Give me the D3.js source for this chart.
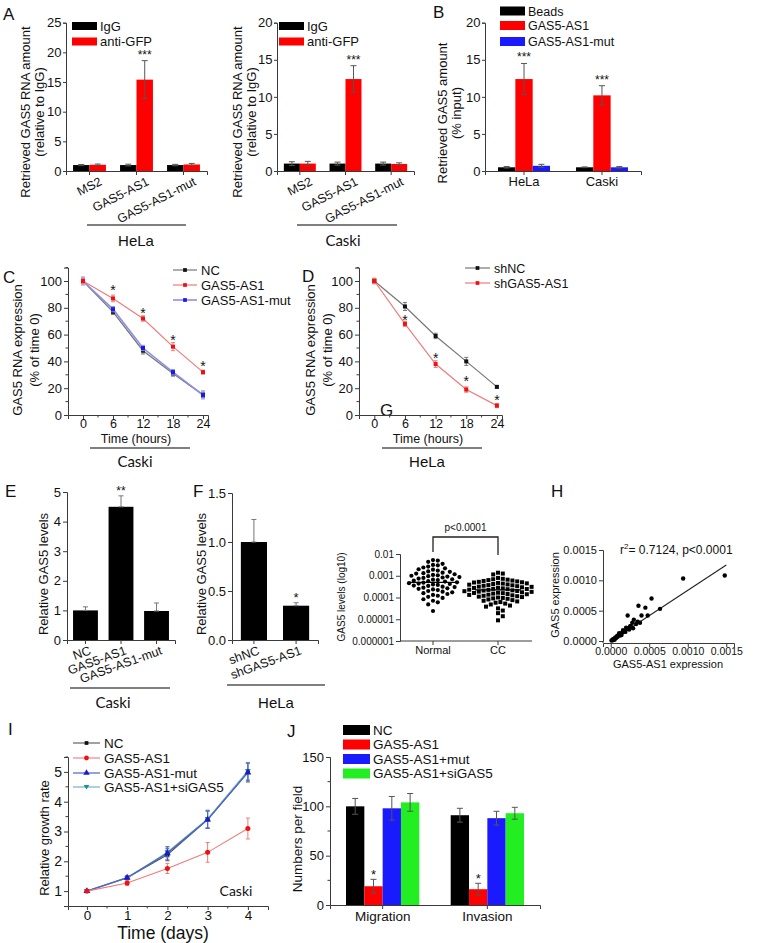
<!DOCTYPE html>
<html><head><meta charset="utf-8">
<script src="https://cdn.jsdelivr.net/npm/d3@7"></script>
<style>body{margin:0;background:#fff}svg{display:block}</style>
</head><body><svg id="fig" width="766" height="943"></svg>
<script>
// ---------------- DATA ----------------
// Panel A
const aCategories = ["MS2", "GAS5-AS1", "GAS5-AS1-mut"];
const aSeries = ["IgG", "anti-GFP"];
const aHelaValues = [[1.0, 1.05], [1.0, 15.4], [1.0, 1.1]];
const aHelaErrors = [[0.1, 0.12], [0.15, 3.2], [0.12, 0.18]];
const aCaskiValues = [[1.0, 1.0], [1.0, 12.4], [1.0, 0.95]];
const aCaskiErrors = [[0.25, 0.3], [0.2, 1.8], [0.2, 0.15]];
const aHelaTicks = [0, 5, 10, 15, 20, 25];
const aCaskiTicks = [0, 5, 10, 15, 20];
// Panel B
const bCells = ["HeLa", "Caski"];
const bSeries = ["Beads", "GAS5-AS1", "GAS5-AS1-mut"];
const bValues = [[0.5, 12.4, 0.7], [0.5, 10.2, 0.5]];
const bErrors = [[0.1, 2.1, 0.2], [0.05, 1.3, 0.1]];
const bTicks = [0, 5, 10, 15, 20];
// Panel C
const cTimes = [0, 6, 12, 18, 24];
const cNC = [100, 77, 48, 31, 15];
const cAS1 = [100, 87, 72, 51, 32];
const cMut = [100, 79, 50, 32, 15];
const cNCErr = [2, 2, 2.5, 2, 2];
const cAS1Err = [2, 2.5, 2, 3, 1.5];
const cMutErr = [3, 2, 2, 2, 3];
const cStarLevels = [95.5, 78.4, 58.2, 38.8];
// Panel D
const dShNC = [100, 81, 59, 40, 21];
const dShAS1 = [100, 68, 38, 19, 7];
const dShNCErr = [2, 3, 2, 3, 1];
const dShAS1Err = [2, 2, 2.5, 2, 1.5];
const dStarLevels = [73, 44.8, 27.6, 13.4];
const timeTicks = [0, 6, 12, 18, 24];
const pctTicks = [0, 20, 40, 60, 80, 100];
// Panel E
const eCategories = ["NC", "GAS5-AS1", "GAS5-AS1-mut"];
const eValues = [1.0, 4.5, 0.98];
const eErrors = [0.12, 0.37, 0.27];
const eTicks = [0, 1, 2, 3, 4, 5];
// Panel F
const fCategories = ["shNC", "shGAS5-AS1"];
const fValues = [1.0, 0.35];
const fErrors = [0.23, 0.03];
const fTicks = [0, 0.5, 1.0, 1.5];
// Panel G (log10 of GAS5 level per sample)
const gGroups = ["Normal", "CC"];
const gNormalLog = [-2.28, -2.3, -2.36, -2.45, -2.5, -2.52, -2.58, -2.62, -2.66, -2.7, -2.72, -2.76, -2.8, -2.82, -2.86, -2.88,
  -2.9, -2.93, -2.96, -2.98, -3.0, -3.02, -3.04, -3.06, -3.08, -3.1, -3.13, -3.16, -3.18, -3.2, -3.22, -3.25, -3.27, -3.3,
  -3.32, -3.34, -3.36, -3.38, -3.4, -3.42, -3.45, -3.47, -3.5, -3.52, -3.55, -3.58, -3.6, -3.63, -3.66, -3.7, -3.73, -3.76,
  -3.8, -3.84, -3.88, -3.92, -3.97, -4.02, -4.08, -4.15, -4.22, -4.32, -4.62];
const gCCLog = [-2.86, -2.9, -2.94, -3.1, -3.14, -3.16, -3.18, -3.2, -3.22, -3.24, -3.26, -3.28, -3.3, -3.31, -3.33, -3.35,
  -3.36, -3.38, -3.4, -3.41, -3.43, -3.44, -3.46, -3.48, -3.5, -3.51, -3.53, -3.55, -3.56, -3.58, -3.6, -3.61, -3.62, -3.64,
  -3.65, -3.67, -3.68, -3.7, -3.71, -3.73, -3.74, -3.76, -3.78, -3.79, -3.8, -3.82, -3.84, -3.85, -3.87, -3.88, -3.9, -3.92,
  -3.94, -3.96, -3.98, -4.0, -4.02, -4.04, -4.06, -4.09, -4.12, -4.15, -4.18, -4.21, -4.24, -4.28, -4.32, -4.37, -4.42,
  -4.5, -4.6, -4.72, -4.86, -5.05];
const gMedianLog = [-3.3, -3.65];
const gTicks = [0.000001, 0.00001, 0.0001, 0.001, 0.01];
const gTickLabels = ["0.000001", "0.00001", "0.0001", "0.001", "0.01"];
// Panel H
const hX = [0.00148, 0.00094, 0.00053, 0.00064, 0.00036, 0.00045, 0.00040, 0.00048, 0.00022, 0.00030, 0.00028, 0.00033,
  0.00025, 0.00020, 0.00018, 0.00015, 0.00012, 0.00010, 0.00008, 0.00006, 0.00005, 0.00004, 0.00003, 0.00002, 0.00001,
  0.00016, 0.00022, 0.00026, 0.00012, 0.00009, 0.00007, 0.00035, 0.00038, 0.00019, 0.00014, 0.00024, 0.00003, 0.00005,
  0.00029, 0.00011];
const hY = [0.00108, 0.00103, 0.00070, 0.00053, 0.00058, 0.00055, 0.00042, 0.00042, 0.00042, 0.00035, 0.00030, 0.00028,
  0.00024, 0.00022, 0.00016, 0.00014, 0.00012, 0.00010, 0.00008, 0.00006, 0.00004, 0.00003, 0.00002, 0.00001, 0.00001,
  0.00018, 0.00020, 0.00025, 0.00009, 0.00007, 0.00005, 0.00032, 0.00030, 0.00015, 0.00010, 0.00019, 0.00003, 0.00002,
  0.00021, 0.00013];
const hFitSlope = 0.835;
const hFitIntercept = 0.0;
const hTicks = [0, 0.0005, 0.0010, 0.0015];
// Panel I
const iDays = [0, 1, 2, 3, 4];
const iNC = [1, 1.45, 2.22, 3.4, 5.0];
const iAS1 = [1, 1.27, 1.76, 2.3, 3.1];
const iMut = [1, 1.45, 2.27, 3.4, 4.98];
const iSi = [1, 1.44, 2.3, 3.42, 5.03];
const iNCErr = [0.03, 0.05, 0.2, 0.3, 0.3];
const iAS1Err = [0.03, 0.08, 0.17, 0.33, 0.35];
const iMutErr = [0.03, 0.05, 0.22, 0.28, 0.32];
const iSiErr = [0.03, 0.05, 0.18, 0.3, 0.28];
const iYTicks = [1, 2, 3, 4, 5];
// Panel J
const jAssays = ["Migration", "Invasion"];
const jSeries = ["NC", "GAS5-AS1", "GAS5-AS1+mut", "GAS5-AS1+siGAS5"];
const jValues = [[100, 19, 98, 104], [91, 16, 88, 93]];
const jErrors = [[8, 7, 12, 9], [7, 6, 7, 6]];
const jTicks = [0, 50, 100, 150];

// ---------------- HELPERS ----------------
const FONT = "'Liberation Sans', Arial, Helvetica, sans-serif";
const FONT2 = "Lato, 'Open Sans', sans-serif";
const AX = "#3a3a3a";
const svg = d3.select('#fig').attr('font-family', FONT);

function txt(x, y, s, size, opt = {}) {
  const t = svg.append('text').attr('x', x).attr('y', y).attr('font-size', size)
    .attr('fill', opt.fill || '#111').attr('text-anchor', opt.anchor || 'start').text(s);
  if (opt.family) t.attr('font-family', opt.family);
  if (opt.rot !== undefined) t.attr('transform', `rotate(${opt.rot},${x},${y})`);
  return t;
}
function ytitle(x, yc, s, size) { return txt(x, yc, s, size, { anchor: 'middle', rot: -90 }); }
function hline(x1, x2, y, color = '#555', w = 1.3) {
  svg.append('line').attr('x1', x1).attr('x2', x2).attr('y1', y).attr('y2', y).attr('stroke', color).attr('stroke-width', w);
}
function styleAxis(a, size) {
  a.select('.domain').attr('stroke', AX).attr('stroke-width', 1);
  a.selectAll('.tick line').attr('stroke', AX);
  a.selectAll('.tick text').attr('font-size', size).attr('fill', '#111').attr('font-family', FONT);
}
function leftAxis(x, y, ticks, fmt, size, minor, tsize = 4, pad = 2) {
  const a = svg.append('g').attr('transform', `translate(${x},0)`)
    .call(d3.axisLeft(y).tickValues(ticks).tickFormat(fmt).tickSizeOuter(0).tickSize(tsize).tickPadding(pad));
  styleAxis(a, size);
  if (minor) minor.forEach(v => a.append('line').attr('x1', 0).attr('x2', -2.5).attr('y1', y(v)).attr('y2', y(v)).attr('stroke', AX));
  return a;
}
function bottomAxis(y0, x, ticks, fmt, size, minor, pad = 2) {
  const ax = d3.axisBottom(x).tickSizeOuter(0).tickSize(4).tickPadding(pad);
  if (ticks) ax.tickValues(ticks);
  ax.tickFormat(fmt);
  const a = svg.append('g').attr('transform', `translate(0,${y0})`).call(ax);
  styleAxis(a, size);
  if (minor) minor.forEach(v => a.append('line').attr('y1', 0).attr('y2', 2.5).attr('x1', x(v)).attr('x2', x(v)).attr('stroke', AX));
  return a;
}
function errbar(cx, yLow, yHigh, cap, color = '#555', w = 1) {
  const g = svg.append('g').attr('stroke', color).attr('stroke-width', w);
  g.append('line').attr('x1', cx).attr('x2', cx).attr('y1', yLow).attr('y2', yHigh);
  g.append('line').attr('x1', cx - cap / 2).attr('x2', cx + cap / 2).attr('y1', yHigh).attr('y2', yHigh);
  if (yLow !== null) g.append('line').attr('x1', cx - cap / 2).attr('x2', cx + cap / 2).attr('y1', yLow).attr('y2', yLow);
}
function groupedBars(o) {
  const x0 = d3.scaleBand().domain(o.cats).range(o.xRange).paddingInner(o.pi).paddingOuter(o.po);
  const x1 = d3.scaleBand().domain(o.series).range([0, x0.bandwidth()]);
  const y = o.y;
  o.cats.forEach((c, i) => o.series.forEach((s, j) => {
    const v = o.values[i][j], e = o.errors[i][j];
    const bx = x0(c) + x1(s), bw = x1.bandwidth();
    svg.append('rect').attr('x', bx).attr('y', y(v)).attr('width', bw).attr('height', y(0) - y(v)).attr('fill', o.colors[j]);
    errbar(bx + bw / 2, y(Math.max(0, v - e)), y(v + e), 6, '#555', 1);
  }));
  return { x0, x1 };
}
function rotLabels(cats, x, y0, angle, size, dx, family) {
  cats.forEach(c => {
    const t = svg.append('text').attr('transform', `translate(${x(c) + x.bandwidth() / 2 + dx},${y0}) rotate(${angle})`)
      .attr('text-anchor', 'end').attr('dy', '0.75em').attr('font-size', size).attr('fill', '#111').text(c);
    if (family) t.attr('font-family', family);
  });
}
function legendBox(x, y, w, h, color, label, size) {
  svg.append('rect').attr('x', x).attr('y', y).attr('width', w).attr('height', h).attr('fill', color);
  txt(x + w + 3, y + h / 2 + size * 0.36, label, size);
}
function lineSeries(x, y, xs, ys, errs, color, lineColor, lw, sym, ssize) {
  const line = d3.line().x((d, i) => x(xs[i])).y(d => y(d));
  svg.append('path').datum(ys).attr('d', line).attr('fill', 'none').attr('stroke', lineColor).attr('stroke-width', lw);
  ys.forEach((v, i) => errbar(x(xs[i]), y(v - errs[i]), y(v + errs[i]), 4, lineColor, 1));
  svg.append('g').selectAll('path').data(ys).enter().append('path')
    .attr('d', d3.symbol().type(sym).size(ssize))
    .attr('transform', (d, i) => `translate(${x(xs[i])},${y(d)})`).attr('fill', color);
}
function lineLegend(x1, x2, y, color, lineColor, lw, sym, ssize, label, size) {
  svg.append('line').attr('x1', x1).attr('x2', x2).attr('y1', y).attr('y2', y).attr('stroke', lineColor).attr('stroke-width', lw);
  svg.append('path').attr('d', d3.symbol().type(sym).size(ssize)).attr('transform', `translate(${(x1 + x2) / 2},${y})`).attr('fill', color);
  txt(x2 + 4, y + size * 0.36, label, size);
}
function star(x, yCenter, s, size) { txt(x, yCenter + size * 0.57, s, size, { anchor: 'middle' }); }

// panel letters
[["A", 3, 20], ["B", 433, 18], ["C", 3, 283], ["D", 302, 282], ["E", 5, 497], ["F", 193, 497],
 ["G", 380, 416], ["H", 551, 497], ["I", 8, 735], ["J", 287, 737]].forEach(d => txt(d[1], d[2], d[0], 17));

// ---------------- PANEL A ----------------
const aY1 = d3.scaleLinear().domain([0, 25]).range([171, 22.7]);
const aB1 = groupedBars({ cats: aCategories, series: aSeries, values: aHelaValues, errors: aHelaErrors,
  colors: ['#000', '#ff0000'], xRange: [66, 207], pi: 0.3, po: 0.15, y: aY1 });
leftAxis(66, aY1, aHelaTicks, d3.format('d'), 13, null, 3, 1.5);
bottomAxis(aY1(0), aB1.x0, null, '', 12);
rotLabels(aCategories, aB1.x0, 176, -27, 12.5, 9);
star(aB1.x0("GAS5-AS1") + aB1.x1("anti-GFP") + aB1.x1.bandwidth() / 2, aY1(aHelaValues[1][1] + aHelaErrors[1][1]) - 9, '***', 12);
legendBox(72, 22, 25, 8, '#000', aSeries[0], 13);
legendBox(72, 37.5, 25, 8, '#ff0000', aSeries[1], 13);
ytitle(30, 112, 'Retrieved GAS5 RNA amount', 13);
ytitle(44, 112, '(relative to IgG)', 13);
hline(87, 186, 225);
txt(136, 246, 'HeLa', 15, { anchor: 'middle' });

const aY2 = d3.scaleLinear().domain([0, 20]).range([171, 22.7]);
const aB2 = groupedBars({ cats: aCategories, series: aSeries, values: aCaskiValues, errors: aCaskiErrors,
  colors: ['#000', '#ff0000'], xRange: [277, 414], pi: 0.3, po: 0.15, y: aY2 });
leftAxis(277, aY2, aCaskiTicks, d3.format('d'), 13, null, 3, 1.5);
bottomAxis(aY2(0), aB2.x0, null, '', 12);
rotLabels(aCategories, aB2.x0, 176, -27, 12.5, 9);
star(aB2.x0("GAS5-AS1") + aB2.x1("anti-GFP") + aB2.x1.bandwidth() / 2, aY2(aCaskiValues[1][1] + aCaskiErrors[1][1]) - 9, '***', 12);
legendBox(279, 22, 25, 8, '#000', aSeries[0], 13);
legendBox(279, 37.5, 25, 8, '#ff0000', aSeries[1], 13);
ytitle(242, 112, 'Retrieved GAS5 RNA amount', 13);
ytitle(256, 112, '(relative to IgG)', 13);
hline(297, 397, 225);
txt(343, 246, 'Caski', 15, { anchor: 'middle', family: FONT2 });

// ---------------- PANEL B ----------------
const bY = d3.scaleLinear().domain([0, 20]).range([171, 22.7]);
const bColors = ['#000', '#ff0000', '#1a1aff'];
const bB = groupedBars({ cats: bCells, series: bSeries, values: bValues, errors: bErrors,
  colors: bColors, xRange: [485, 641], pi: 0.333, po: 0.167, y: bY });
leftAxis(485, bY, bTicks, d3.format('d'), 13, null, 3, 1.5);
bottomAxis(bY(0), bB.x0, null, d => d, 13);
bCells.forEach((c, i) => star(bB.x0(c) + bB.x1("GAS5-AS1") + bB.x1.bandwidth() / 2, bY(bValues[i][1] + bErrors[i][1]) - 9, '***', 12));
legendBox(500, 6.5, 25, 9, bColors[0], bSeries[0], 12.5);
legendBox(500, 21, 25, 9, bColors[1], bSeries[1], 12.5);
legendBox(500, 37, 25, 9, bColors[2], bSeries[2], 12.5);
ytitle(447, 113, 'Retrieved GAS5 amount', 13);
ytitle(461, 113, '(% input)', 13);

// ---------------- PANEL C ----------------
const cX = d3.scaleLinear().domain([-3, 25]).range([68, 208]);
const cY = d3.scaleLinear().domain([0, 110]).range([415, 267.6]);
leftAxis(68, cY, pctTicks, d3.format('d'), 13, [10, 30, 50, 70, 90, 110]);
bottomAxis(415, cX, timeTicks, d3.format('d'), 12.5, [3, 9, 15, 21], 0.5);
lineSeries(cX, cY, cTimes, cNC, cNCErr, '#111', '#777', 1.3, d3.symbolSquare, 16);
lineSeries(cX, cY, cTimes, cMut, cMutErr, '#1a1aee', '#8f8fe6', 1.6, d3.symbolSquare, 16);
lineSeries(cX, cY, cTimes, cAS1, cAS1Err, '#ee1111', '#f07b7b', 1.2, d3.symbolSquare, 16);
cTimes.slice(1).forEach((t, i) => star(cX(t), cY(cStarLevels[i]), '*', 14));
lineLegend(173, 197, 270, '#111', '#777', 1.2, d3.symbolSquare, 14, 'NC', 13);
lineLegend(173, 197, 285, '#ee1111', '#f07b7b', 1.2, d3.symbolSquare, 14, 'GAS5-AS1', 13);
lineLegend(173, 197, 300, '#1a1aee', '#8f8fe6', 1.6, d3.symbolSquare, 14, 'GAS5-AS1-mut', 13);
ytitle(22, 350, 'GAS5 RNA expression', 13);
ytitle(39, 350, '(% of time 0)', 13);
txt(136, 443, 'Time (hours)', 12.5, { anchor: 'middle' });
hline(90, 190, 448);
txt(135, 467, 'Caski', 15, { anchor: 'middle', family: FONT2 });

// ---------------- PANEL D ----------------
const dX = d3.scaleLinear().domain([-3, 25]).range([359, 502]);
const dY = d3.scaleLinear().domain([0, 110]).range([415, 267.6]);
leftAxis(359, dY, pctTicks, d3.format('d'), 13, [10, 30, 50, 70, 90, 110]);
bottomAxis(415, dX, timeTicks, d3.format('d'), 12.5, [3, 9, 15, 21], 0.5);
lineSeries(dX, dY, cTimes, dShNC, dShNCErr, '#111', '#777', 1.2, d3.symbolSquare, 16);
lineSeries(dX, dY, cTimes, dShAS1, dShAS1Err, '#ee1111', '#f07b7b', 1.2, d3.symbolSquare, 16);
cTimes.slice(1).forEach((t, i) => star(dX(t), dY(dStarLevels[i]), '*', 14));
lineLegend(465, 490, 268, '#111', '#777', 1.2, d3.symbolSquare, 14, 'shNC', 12.5);
lineLegend(465, 490, 283, '#ee1111', '#f07b7b', 1.2, d3.symbolSquare, 14, 'shGAS5-AS1', 12.5);
ytitle(315, 350, 'GAS5 RNA expression', 13);
ytitle(332, 350, '(% of time 0)', 13);
txt(428, 443, 'Time (hours)', 12.5, { anchor: 'middle' });
hline(382, 482, 448);
txt(427, 467, 'HeLa', 15, { anchor: 'middle' });

// ---------------- PANEL E ----------------
const eY = d3.scaleLinear().domain([0, 5]).range([640, 492]);
const eX = d3.scaleBand().domain(eCategories).range([67, 175]).paddingInner(0.3).paddingOuter(0.17);
eCategories.forEach((c, i) => {
  svg.append('rect').attr('x', eX(c)).attr('y', eY(eValues[i])).attr('width', eX.bandwidth()).attr('height', eY(0) - eY(eValues[i])).attr('fill', '#000');
  errbar(eX(c) + eX.bandwidth() / 2, eY(eValues[i]), eY(eValues[i] + eErrors[i]), 5, '#777', 1);
});
leftAxis(67, eY, eTicks, d3.format('d'), 13);
bottomAxis(640, eX, null, '', 12);
rotLabels(eCategories, eX, 645, -20, 12.5, 3);
star(eX("GAS5-AS1") + eX.bandwidth() / 2, eY(eValues[1] + eErrors[1]) - 8, '**', 12);
ytitle(48, 574, 'Relative GAS5 levels', 13);
hline(70, 170, 688);
txt(113, 708, 'Caski', 15, { anchor: 'middle', family: FONT2 });

// ---------------- PANEL F ----------------
const fY = d3.scaleLinear().domain([0, 1.5]).range([640, 493]);
const fX = d3.scaleBand().domain(fCategories).range([232, 318]).paddingInner(0.38).paddingOuter(0.21);
fCategories.forEach((c, i) => {
  svg.append('rect').attr('x', fX(c)).attr('y', fY(fValues[i])).attr('width', fX.bandwidth()).attr('height', fY(0) - fY(fValues[i])).attr('fill', '#000');
  errbar(fX(c) + fX.bandwidth() / 2, fY(fValues[i]), fY(fValues[i] + fErrors[i]), 5, '#777', 1);
});
leftAxis(232, fY, fTicks, d3.format('.1f'), 13);
bottomAxis(640, fX, null, '', 12);
rotLabels(fCategories, fX, 645, -20, 12.5, 3);
star(fX("shGAS5-AS1") + fX.bandwidth() / 2, fY(fValues[1] + fErrors[1]) - 8, '*', 13);
ytitle(206, 574, 'Relative GAS5 levels', 13);
hline(227, 325, 685);
txt(276, 708, 'HeLa', 15, { anchor: 'middle' });

// ---------------- PANEL G ----------------
const gY = d3.scaleLog().domain([0.000001, 0.01]).range([641, 554]);
const gX = d3.scalePoint().domain(gGroups).range([433, 498]);
function swarm(vals, cx, d) {
  const pts = vals.map(v => ({ v, y: gY(v) })).sort((a, b) => a.y - b.y);
  const placed = [];
  pts.forEach(p => {
    let best = null;
    for (let k = 0; k < 60 && best === null; k++) {
      const offs = k === 0 ? [0] : [k * d / 2, -k * d / 2];
      for (const o of offs) {
        if (placed.every(q => (q.x - o) ** 2 + (q.y - p.y) ** 2 >= d * d * 0.95)) { best = o; break; }
      }
    }
    p.x = best; placed.push(p);
  });
  return pts.map(p => ({ x: cx + p.x, y: p.y }));
}
const gNormal = swarm(gNormalLog.map(e => Math.pow(10, e)), gX("Normal"), 4.8);
const gCC = swarm(gCCLog.map(e => Math.pow(10, e)), gX("CC"), 4.8);
svg.append('g').selectAll('circle').data(gNormal).enter().append('circle')
  .attr('cx', d => d.x).attr('cy', d => d.y).attr('r', 2.1).attr('fill', '#000');
svg.append('g').selectAll('rect').data(gCC).enter().append('rect')
  .attr('x', d => d.x - 2).attr('y', d => d.y - 2).attr('width', 4).attr('height', 4).attr('fill', '#000');
gGroups.forEach((g, i) => hline(gX(g) - 23, gX(g) + 23, gY(Math.pow(10, gMedianLog[i])), '#000', 1.2));
const gAx = svg.append('g').attr('transform', 'translate(400,0)')
  .call(d3.axisLeft(gY).tickValues(gTicks).tickFormat((d, i) => gTickLabels[i]).tickSizeOuter(0).tickSize(4).tickPadding(2));
styleAxis(gAx, 10);
svg.append('line').attr('x1', 400).attr('x2', 532).attr('y1', 641).attr('y2', 641).attr('stroke', AX);
gGroups.forEach(g => {
  svg.append('line').attr('x1', gX(g)).attr('x2', gX(g)).attr('y1', 641).attr('y2', 645).attr('stroke', AX);
  txt(gX(g), 654, g, 11, { anchor: 'middle' });
});
ytitle(345, 597, 'GAS5 levels (log10)', 10);
svg.append('path').attr('d', `M${gX("Normal")},552 V537 H${gX("CC")} V555`).attr('fill', 'none').attr('stroke', '#222').attr('stroke-width', 1.3);
txt((gX("Normal") + gX("CC")) / 2, 531, 'p<0.0001', 10, { anchor: 'middle' });

// ---------------- PANEL H ----------------
const hXS = d3.scaleLinear().domain([-0.0001, 0.0016]).range([603, 734]);
const hYS = d3.scaleLinear().domain([0, 0.0015]).range([641, 550]);
const fmt4 = d3.format('.4f');
leftAxis(603, hYS, hTicks, fmt4, 11);
bottomAxis(643, hXS, hTicks, fmt4, 10.5, null, 1);
svg.append('line').attr('x1', 603).attr('x2', 603).attr('y1', 641).attr('y2', 643).attr('stroke', AX);
svg.append('line').attr('x1', hXS(0)).attr('x2', hXS(0.0015)).attr('y1', hYS(hFitIntercept)).attr('y2', hYS(hFitIntercept + hFitSlope * 0.0015))
  .attr('stroke', '#222').attr('stroke-width', 1.1);
svg.append('g').selectAll('circle').data(hX).enter().append('circle')
  .attr('cx', d => hXS(d)).attr('cy', (d, i) => hYS(hY[i])).attr('r', 2.2).attr('fill', '#000');
const rt = txt(620, 554, '', 12);
rt.append('tspan').text('r');
rt.append('tspan').attr('dy', -5).attr('font-size', 8).text('2');
rt.append('tspan').attr('dy', 5).text('= 0.7124, p<0.0001');
ytitle(559, 595, 'GAS5 expression', 11);
txt(668, 668, 'GAS5-AS1 expression', 11, { anchor: 'middle' });

// ---------------- PANEL I ----------------
const iX = d3.scaleLinear().domain([-0.47, 4.5]).range([68, 268]);
const iY = d3.scaleLinear().domain([0.5, 5.5]).range([906, 757]);
leftAxis(68, iY, iYTicks, d3.format('d'), 14, [1.5, 2.5, 3.5, 4.5, 5.5]);
bottomAxis(906, iX, iDays, d3.format('d'), 13.5, [0.5, 1.5, 2.5, 3.5], 0.5);
const triDown = { draw(ctx, size) { const s = Math.sqrt(size) * 0.62; ctx.moveTo(-s, -s * 0.7); ctx.lineTo(s, -s * 0.7); ctx.lineTo(0, s * 0.9); ctx.closePath(); } };
lineSeries(iX, iY, iDays, iNC, iNCErr, '#111', '#555', 1.1, d3.symbolSquare, 16);
lineSeries(iX, iY, iDays, iSi, iSiErr, '#1f8f8f', '#74b4bc', 1.3, triDown, 22);
lineSeries(iX, iY, iDays, iMut, iMutErr, '#1a1acc', '#4a64c8', 1.4, d3.symbolTriangle, 20);
lineSeries(iX, iY, iDays, iAS1, iAS1Err, '#ee1111', '#f07b7b', 1.1, d3.symbolCircle, 20);
lineLegend(73, 100, 743, '#111', '#555', 1.1, d3.symbolSquare, 14, 'NC', 13.5);
lineLegend(73, 100, 758, '#ee1111', '#f07b7b', 1.1, d3.symbolCircle, 18, 'GAS5-AS1', 13.5);
lineLegend(73, 100, 773, '#1a1acc', '#4a64c8', 1.2, d3.symbolTriangle, 18, 'GAS5-AS1-mut', 13.5);
lineLegend(73, 100, 787, '#1f8f8f', '#74b4bc', 1.2, triDown, 20, 'GAS5-AS1+siGAS5', 13.5);
ytitle(49, 838, 'Relative growth rate', 13);
txt(163, 939, 'Time (days)', 17.5, { anchor: 'middle' });
txt(236, 896, 'Caski', 14, { anchor: 'middle', family: FONT2 });

// ---------------- PANEL J ----------------
const jY = d3.scaleLinear().domain([0, 150]).range([905, 757]);
const jColors = ['#000', '#ff0000', '#1a1aff', '#22ee22'];
const jB = groupedBars({ cats: jAssays, series: jSeries, values: jValues, errors: jErrors,
  colors: jColors, xRange: [330, 540], pi: 0.3, po: 0.153, y: jY });
leftAxis(330, jY, jTicks, d3.format('d'), 13, [25, 75, 125]);
bottomAxis(905, jB.x0, null, d => d, 13.5);
jAssays.forEach((a, i) => star(jB.x0(a) + jB.x1("GAS5-AS1") + jB.x1.bandwidth() / 2, jY(jValues[i][1] + jErrors[i][1]) - 8, '*', 13));
jSeries.forEach((s, i) => legendBox(343, 725 + i * 14.5, 27, 10, jColors[i], s, 13.5));
ytitle(302, 839, 'Numbers per field', 13.5);
</script></body></html>
